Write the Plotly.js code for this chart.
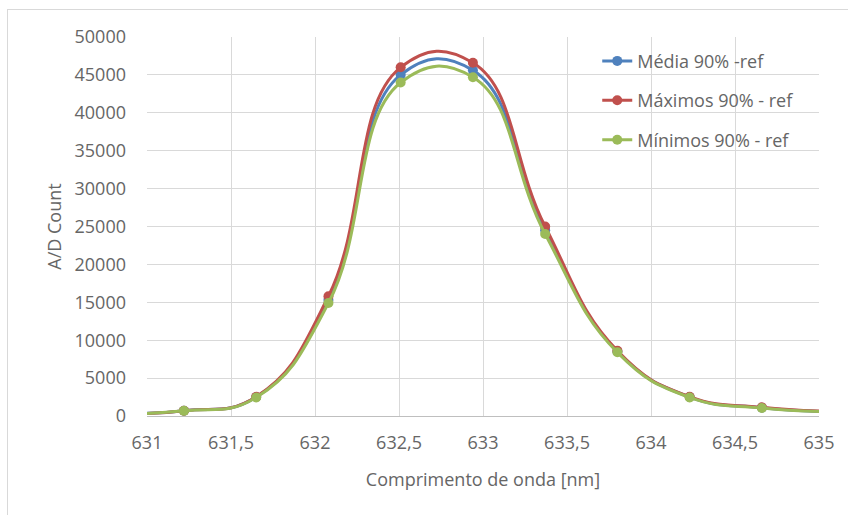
<!DOCTYPE html>
<html>
<head>
<meta charset="utf-8">
<script src="https://cdn.plot.ly/plotly-3.0.1.min.js"></script>
<style>
html,body{margin:0;padding:0;background:#fff;overflow:hidden;}
#chart{width:848px;height:515px;}
#frame{position:absolute;left:7px;top:9px;width:860px;height:520px;border:1px solid #d9d9d9;pointer-events:none;}
</style>
</head>
<body>
<div id="chart"></div>
<div id="frame"></div>
<script>
var wavelength = [630.79, 631.22, 631.65, 632.08, 632.51, 632.94, 633.37, 633.80, 634.23, 634.66, 635.09];
var media   = [300, 700, 2500, 15300, 45000, 45600, 24500, 8500, 2500, 1100, 550];
var maximos = [300, 700, 2550, 15800, 46000, 46600, 25000, 8600, 2550, 1150, 580];
var minimos = [300, 680, 2450, 14900, 44000, 44700, 24000, 8400, 2450, 1050, 530];
var seriesNames = ["Média 90% -ref", "Máximos 90% - ref", "Mínimos 90% - ref"];
var seriesColors = ["#4F81BD", "#C0504D", "#9BBB59"];
var xTicks = [631, 631.5, 632, 632.5, 633, 633.5, 634, 634.5, 635];
var xTickLabels = ["631", "631,5", "632", "632,5", "633", "633,5", "634", "634,5", "635"];
var yTicks = [0, 5000, 10000, 15000, 20000, 25000, 30000, 35000, 40000, 45000, 50000];

var ys = [media, maximos, minimos];
var traces = ys.map(function(y, i){
  return {
    x: wavelength, y: y, name: seriesNames[i], type: 'scatter', mode: 'lines+markers',
    legendgroup: 'g' + i,
    line: {color: seriesColors[i], width: 3, shape: 'spline', smoothing: 1.3},
    marker: {color: seriesColors[i], size: 10}
  };
});

var txt = '#666666';
var layout = {
  width: 848, height: 515,
  margin: {l: 147, r: 29, t: 37, b: 99},
  paper_bgcolor: '#fff', plot_bgcolor: '#fff',
  font: {family: 'Open Sans, sans-serif', color: txt, size: 18},
  showlegend: true,
  legend: {x: 0.67, y: 0.985, xanchor: 'left', yanchor: 'top', bgcolor: 'rgba(255,255,255,0)',
           font: {size: 18, color: txt}, traceorder: 'grouped', tracegroupgap: 13, itemwidth: 30},
  xaxis: {
    range: [631, 635], tickvals: xTicks, ticktext: xTickLabels,
    showgrid: true, gridcolor: '#d9d9d9', gridwidth: 1,
    showline: true, linecolor: '#bfbfbf', linewidth: 1, zeroline: false,
    ticks: '', ticklabelstandoff: 10,
    tickfont: {size: 18, color: txt},
    title: {text: 'Comprimento de onda [nm]', font: {size: 18, color: txt}, standoff: 20}
  },
  yaxis: {
    range: [0, 50000], tickvals: yTicks, ticktext: yTicks.map(String),
    showgrid: true, gridcolor: '#d9d9d9', gridwidth: 1,
    showline: false, zeroline: false, ticks: '',
    ticklabelstandoff: 20,
    tickfont: {size: 18, color: txt},
    title: {text: 'A/D Count', font: {size: 18, color: txt}, standoff: 8}
  }
};
Plotly.newPlot('chart', traces, layout, {displayModeBar: false, staticPlot: true});
</script>
</body>
</html>
